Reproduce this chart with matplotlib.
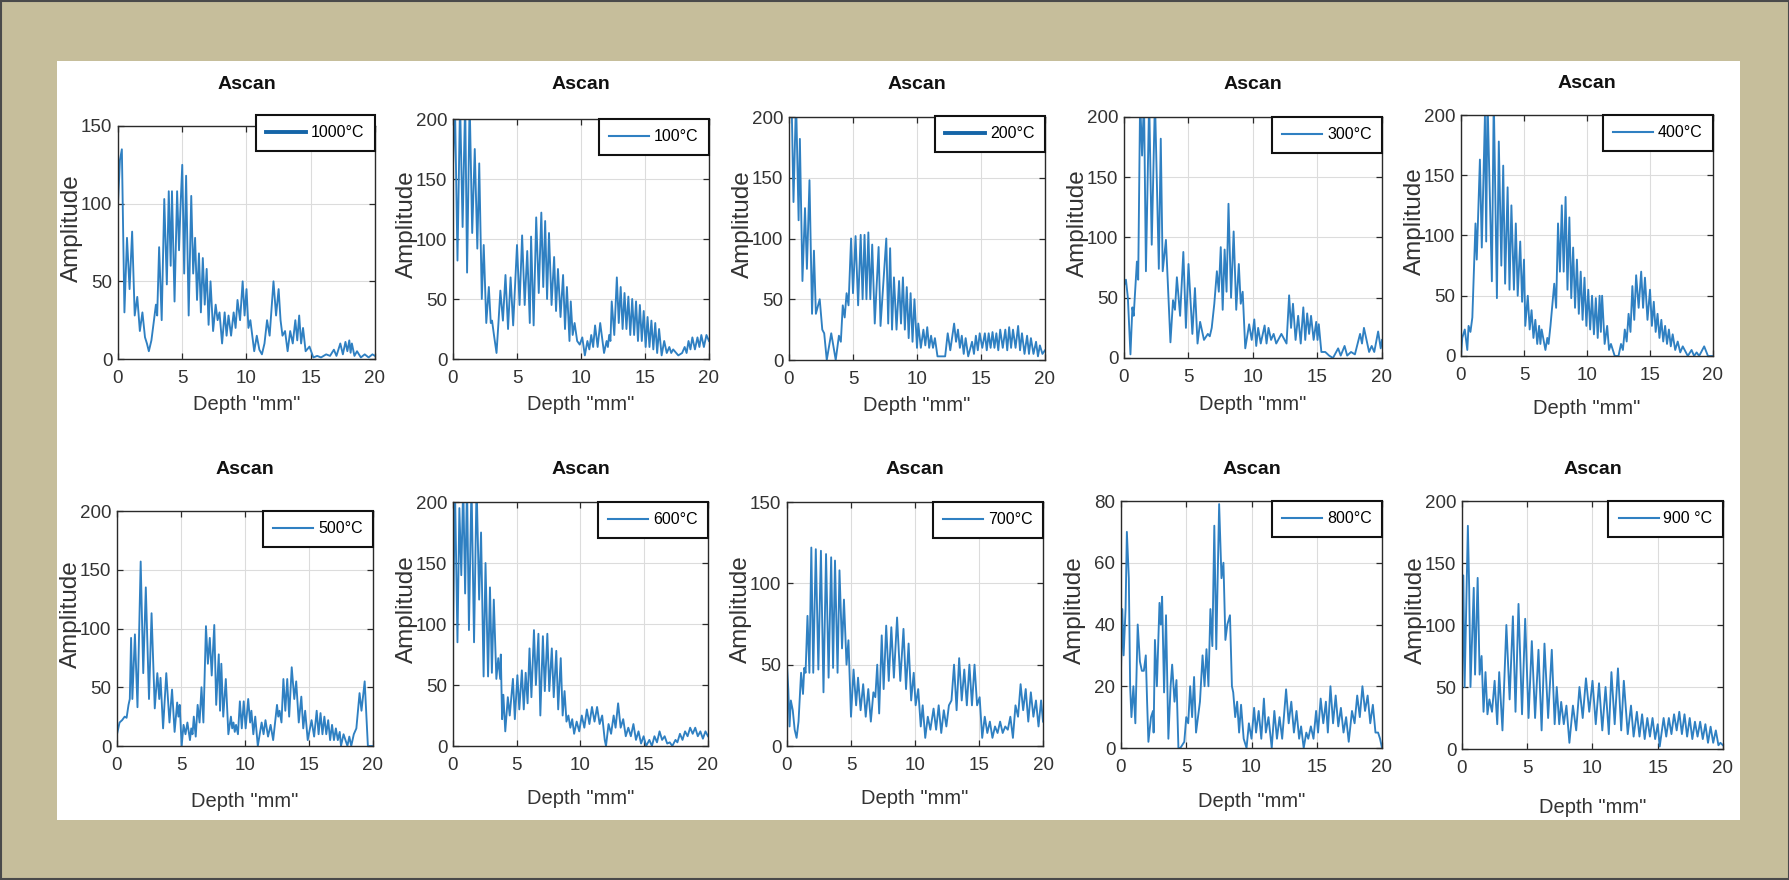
import matplotlib
matplotlib.use("Agg")
import matplotlib.pyplot as plt
from matplotlib.patches import Rectangle

plt.rcParams['font.family'] = ['Liberation Sans', 'DejaVu Sans']

W, H = 1790, 880

# ---------------- data (depth mm, amplitude) ----------------
labels = ['1000°C', '100°C', '200°C', '300°C', '400°C',
          '500°C', '600°C', '700°C', '800°C', '900 °C']
ymax_list = [150, 200, 200, 200, 200, 200, 200, 150, 80, 200]
ystep_list = [50, 50, 50, 50, 50, 50, 50, 50, 20, 50]
x_ticks = [0, 5, 10, 15, 20]

pts_1000 = [(0,100),(0.15,128),(0.3,135),(0.5,30),(0.7,78),(0.9,45),(1.1,82),(1.3,28),(1.5,40),(1.7,18),
            (1.9,30),(2.1,14),(2.25,10),(2.4,5),(2.6,12),(2.8,25),(2.95,35),(3.05,28),(3.2,72),(3.4,25),
            (3.6,103),(3.8,48),(3.95,108),(4.1,60),(4.2,108),(4.4,37),(4.6,108),(4.75,70),(4.85,95),(5.0,125),
            (5.15,55),(5.3,118),(5.5,28),(5.7,105),(5.85,55),(6.0,78),(6.15,38),(6.3,68),(6.45,30),(6.6,65),
            (6.75,35),(6.9,58),(7.05,22),(7.2,50),(7.4,18),(7.6,35),(7.75,25),(7.9,30),(8.1,10),(8.3,30),
            (8.45,15),(8.6,28),(8.8,15),(9.0,30),(9.15,20),(9.3,38),(9.5,25),(9.7,50),(9.85,28),(10.0,45),
            (10.15,20),(10.3,25),(10.6,5),(10.8,15),(11.0,6),(11.2,3),(11.4,10),(11.6,25),(11.8,15),(12.1,50),
            (12.3,28),(12.5,45),(12.65,25),(12.8,15),(13.0,18),(13.2,5),(13.4,18),(13.6,10),(13.8,25),(13.95,12),
            (14.1,28),(14.25,10),(14.4,20),(14.6,5),(14.9,8),(15.2,1),(15.5,2),(15.8,1),(16.2,3),(16.5,2),
            (16.8,6),(17.0,2),(17.3,10),(17.5,3),(17.7,11),(17.85,5),(18.0,12),(18.1,4),(18.2,10),(18.4,2),
            (18.6,5),(18.9,1),(19.2,3),(19.5,1),(19.8,3),(20,2)]

pts_100 = [(0,160),(0.15,215),(0.35,82),(0.55,215),(0.75,110),(0.95,215),(1.1,72),(1.3,215),(1.5,105),(1.7,175),
           (1.9,92),(2.05,163),(2.25,50),(2.4,95),(2.6,30),(2.8,60),(2.95,30),(3.05,32),(3.2,20),(3.4,5),
           (3.55,30),(3.7,57),(3.9,32),(4.1,70),(4.3,25),(4.5,68),(4.7,28),(5.0,95),(5.2,45),(5.4,103),
           (5.6,45),(5.8,90),(6.0,30),(6.1,102),(6.3,28),(6.5,118),(6.7,55),(6.9,122),(7.05,60),(7.2,115),
           (7.35,50),(7.5,105),(7.7,45),(7.9,85),(8.05,40),(8.2,75),(8.4,35),(8.6,70),(8.75,25),(8.9,60),
           (9.1,15),(9.2,48),(9.35,20),(9.5,30),(9.7,15),(9.9,12),(10.1,18),(10.3,3),(10.5,15),(10.65,8),
           (10.8,20),(10.95,10),(11.1,28),(11.3,10),(11.5,30),(11.8,5),(12.0,15),(12.1,10),(12.2,20),(12.3,15),
           (12.4,48),(12.6,20),(12.8,68),(12.95,30),(13.1,60),(13.25,25),(13.4,55),(13.55,25),(13.7,52),(13.85,20),
           (14.0,50),(14.15,20),(14.3,48),(14.45,15),(14.6,45),(14.75,15),(14.9,40),(15.05,10),(15.2,35),(15.35,10),
           (15.5,32),(15.65,8),(15.8,30),(15.95,5),(16.1,25),(16.3,3),(16.5,15),(16.7,5),(16.9,10),(17.05,5),
           (17.2,8),(17.6,3),(17.9,5),(18.1,10),(18.25,5),(18.4,15),(18.55,8),(18.7,18),(18.9,8),(19.1,18),
           (19.25,10),(19.4,20),(19.6,10),(19.8,20),(20,15)]

pts_200 = [(0,200),(0.2,215),(0.35,130),(0.55,215),(0.75,115),(0.85,182),(1.05,65),(1.25,125),(1.4,75),(1.6,148),
           (1.8,38),(1.95,90),(2.1,38),(2.4,50),(2.6,25),(2.75,22),(2.95,0),(3.3,22),(3.65,0),(3.9,20),
           (4.05,15),(4.2,45),(4.35,35),(4.5,55),(4.65,45),(4.85,100),(5.0,55),(5.2,102),(5.4,45),(5.6,103),
           (5.75,50),(5.9,103),(6.05,50),(6.2,105),(6.35,50),(6.5,95),(6.7,30),(7.0,93),(7.15,28),(7.6,100),
           (7.75,30),(7.9,92),(8.05,25),(8.2,68),(8.4,25),(8.6,65),(8.75,30),(8.9,68),(9.05,25),(9.2,60),
           (9.35,18),(9.5,55),(9.65,15),(9.8,50),(10.0,10),(10.1,30),(10.3,10),(10.5,25),(10.65,12),(10.8,27),
           (10.95,10),(11.1,20),(11.25,10),(11.4,18),(11.6,3),(12.2,3),(12.4,22),(12.6,8),(12.9,30),(13.05,15),
           (13.2,25),(13.35,10),(13.5,20),(13.65,5),(13.8,18),(14.0,3),(14.3,15),(14.45,5),(14.6,20),(14.75,8),
           (14.9,22),(15.1,10),(15.3,22),(15.45,8),(15.6,22),(15.75,10),(15.9,23),(16.05,10),(16.2,22),(16.35,8),
           (16.5,25),(16.7,10),(16.9,25),(17.05,8),(17.2,27),(17.35,10),(17.5,25),(17.7,10),(17.9,28),(18.05,8),
           (18.2,22),(18.4,5),(18.6,20),(18.75,5),(18.9,18),(19.1,5),(19.3,15),(19.45,3),(19.6,12),(19.8,5),(20,8)]

pts_300 = [(0,60),(0.15,65),(0.3,50),(0.5,3),(0.65,42),(0.75,35),(1.0,80),(1.1,65),(1.25,215),(1.4,168),
           (1.55,215),(1.7,72),(1.95,215),(2.15,94),(2.4,215),(2.7,74),(2.85,182),(3.0,72),(3.25,98),(3.6,13),
           (3.8,48),(3.95,40),(4.1,67),(4.35,35),(4.6,88),(4.8,25),(5.0,78),(5.3,20),(5.5,58),(5.7,12),
           (5.9,30),(6.2,15),(6.5,20),(6.65,18),(6.8,25),(7.0,45),(7.2,72),(7.35,55),(7.5,92),(7.65,40),
           (7.8,90),(7.95,55),(8.1,128),(8.3,50),(8.5,105),(8.7,40),(8.9,78),(9.05,45),(9.2,55),(9.4,8),
           (9.7,28),(9.9,15),(10.1,32),(10.25,10),(10.4,25),(10.6,12),(10.9,27),(11.05,12),(11.2,25),(11.4,15),
           (11.6,20),(11.8,12),(12.2,20),(12.6,12),(12.8,52),(12.95,25),(13.1,45),(13.3,15),(13.5,35),(13.7,12),
           (13.9,42),(14.05,15),(14.2,37),(14.35,20),(14.5,35),(14.7,15),(14.9,30),(15.0,15),(15.1,28),(15.3,5),
           (15.6,5),(15.9,2),(16.2,0),(16.6,8),(16.8,2),(17.1,10),(17.3,2),(17.6,5),(17.9,3),(18.3,20),
           (18.45,12),(18.6,25),(19.0,5),(19.2,10),(19.4,5),(19.7,22),(19.9,8),(20,15)]

pts_400 = [(0,0),(0.1,15),(0.3,22),(0.5,5),(0.6,25),(0.75,20),(0.9,32),(1.15,110),(1.25,80),(1.5,163),
           (1.65,90),(1.9,200),(2.0,95),(2.1,215),(2.45,62),(2.6,215),(2.85,48),(3.0,178),(3.2,75),(3.35,158),
           (3.5,60),(3.7,140),(3.85,55),(4.0,125),(4.2,55),(4.35,110),(4.5,50),(4.7,95),(4.85,45),(5.0,80),
           (5.1,25),(5.3,50),(5.45,22),(5.6,38),(5.75,15),(5.9,30),(6.05,10),(6.2,25),(6.3,10),(6.4,22),
           (6.7,5),(6.85,15),(6.95,10),(7.1,25),(7.4,60),(7.55,40),(7.7,110),(7.85,70),(8.0,125),(8.15,70),
           (8.3,132),(8.45,55),(8.6,115),(8.75,48),(8.9,90),(9.05,40),(9.2,80),(9.35,35),(9.5,70),(9.65,30),
           (9.8,65),(9.95,25),(10.1,55),(10.25,22),(10.4,50),(10.55,18),(10.7,48),(10.85,15),(11.0,50),(11.1,20),
           (11.2,50),(11.4,10),(11.6,25),(11.75,5),(11.9,10),(12.2,0),(12.5,0),(12.7,10),(12.85,5),(13.0,22),
           (13.15,12),(13.3,35),(13.45,20),(13.6,58),(13.75,30),(13.9,67),(14.1,40),(14.3,70),(14.45,40),(14.6,65),
           (14.8,30),(15.0,55),(15.15,25),(15.3,45),(15.45,20),(15.6,35),(15.75,15),(15.9,30),(16.05,12),(16.2,25),
           (16.35,10),(16.5,22),(16.65,8),(16.8,18),(17.0,5),(17.2,12),(17.4,3),(17.6,8),(18.0,0),(18.3,5),
           (18.5,0),(18.7,3),(18.9,0),(19.3,8),(19.6,0),(20,0)]

pts_500 = [(0,10),(0.2,20),(0.4,22),(0.6,25),(0.75,24),(0.9,35),(1.0,40),(1.1,92),(1.2,40),(1.4,95),
           (1.6,33),(1.85,157),(2.05,62),(2.25,135),(2.5,40),(2.7,113),(2.95,32),(3.15,62),(3.3,40),(3.4,58),
           (3.6,15),(3.85,62),(4.1,20),(4.3,48),(4.5,12),(4.7,37),(4.8,25),(4.9,35),(5.05,0),(5.2,18),
           (5.35,10),(5.5,20),(5.7,5),(5.8,15),(5.9,10),(6.0,25),(6.15,8),(6.3,35),(6.45,20),(6.6,50),
           (6.75,20),(6.95,102),(7.1,70),(7.25,92),(7.4,60),(7.6,103),(7.75,35),(7.95,78),(8.05,30),(8.15,70),
           (8.3,25),(8.5,57),(8.7,10),(8.9,25),(9.0,15),(9.1,20),(9.2,12),(9.3,18),(9.45,10),(9.6,38),
           (9.75,15),(9.9,38),(10.05,15),(10.25,40),(10.4,20),(10.5,30),(10.65,10),(10.8,25),(11.0,0),(11.3,20),
           (11.45,10),(11.6,22),(11.8,8),(12.0,18),(12.2,5),(12.5,35),(12.6,25),(12.7,30),(12.85,20),(13.0,57),
           (13.15,30),(13.3,57),(13.45,25),(13.65,67),(13.85,40),(14.0,55),(14.2,20),(14.4,42),(14.55,15),(14.7,30),
           (14.9,5),(15.2,22),(15.4,8),(15.6,30),(15.75,10),(15.9,28),(16.05,10),(16.2,25),(16.35,10),(16.5,22),
           (16.65,5),(16.8,18),(16.95,5),(17.1,15),(17.25,5),(17.4,12),(17.5,0),(17.7,10),(18.0,0),(18.15,8),
           (18.3,0),(18.5,10),(18.7,15),(18.95,45),(19.1,30),(19.35,55),(19.6,0),(20,0)]

pts_600 = [(0,90),(0.15,215),(0.35,85),(0.5,195),(0.65,140),(0.8,215),(0.95,125),(1.1,215),(1.25,95),(1.45,215),
           (1.65,85),(1.85,215),(2.05,120),(2.2,175),(2.4,57),(2.55,150),(2.75,57),(2.9,130),(3.05,60),(3.2,120),
           (3.4,55),(3.55,72),(3.7,55),(3.75,75),(3.85,22),(3.95,42),(4.1,12),(4.3,40),(4.45,25),(4.7,55),
           (4.85,22),(5.05,58),(5.2,30),(5.4,62),(5.55,30),(5.7,60),(5.85,35),(6.0,80),(6.15,40),(6.35,95),
           (6.5,50),(6.7,92),(6.85,25),(7.05,90),(7.2,45),(7.4,92),(7.55,45),(7.75,80),(7.9,40),(8.1,78),
           (8.25,30),(8.45,72),(8.6,25),(8.75,45),(8.9,20),(9.05,25),(9.2,15),(9.35,22),(9.5,10),(9.7,20),
           (9.9,12),(10.1,25),(10.3,15),(10.5,30),(10.7,18),(10.9,32),(11.1,20),(11.3,32),(11.5,18),(11.7,25),
           (11.9,5),(12.0,0),(12.2,18),(12.4,10),(12.6,25),(12.75,15),(12.95,35),(13.15,15),(13.35,22),(13.55,8),
           (13.75,15),(13.95,8),(14.15,18),(14.35,5),(14.55,12),(14.75,2),(14.95,8),(15.15,0),(15.4,5),(15.6,0),
           (15.8,8),(16.0,3),(16.2,12),(16.4,5),(16.6,8),(16.8,2),(17.0,3),(17.2,0),(17.45,5),(17.6,3),
           (17.8,10),(18.0,5),(18.2,12),(18.4,8),(18.6,15),(18.8,10),(19.0,15),(19.2,8),(19.4,12),(19.6,6),
           (19.8,12),(20,8)]

pts_700 = [(0,50),(0.1,35),(0.2,12),(0.3,28),(0.45,22),(0.6,10),(0.75,5),(0.9,15),(1.1,45),(1.25,32),
           (1.35,48),(1.45,45),(1.6,80),(1.75,45),(1.9,122),(2.05,45),(2.25,121),(2.45,47),(2.65,120),(2.85,33),
           (3.05,118),(3.25,42),(3.45,116),(3.6,48),(3.75,114),(3.95,45),(4.1,108),(4.3,60),(4.45,90),(4.65,50),
           (4.8,65),(5.0,18),(5.2,47),(5.4,25),(5.55,42),(5.75,22),(5.95,38),(6.15,18),(6.35,35),(6.55,15),
           (6.75,33),(6.9,30),(7.05,50),(7.2,20),(7.4,68),(7.55,35),(7.75,74),(7.95,40),(8.15,73),(8.35,42),
           (8.6,79),(8.85,40),(9.1,72),(9.3,35),(9.5,63),(9.7,28),(9.9,45),(10.05,25),(10.25,35),(10.45,12),
           (10.6,25),(10.8,5),(11.0,18),(11.2,10),(11.45,23),(11.65,10),(11.85,25),(12.05,8),(12.25,22),(12.45,12),
           (12.65,25),(12.85,28),(13.05,50),(13.25,22),(13.45,54),(13.65,28),(13.85,47),(14.05,25),(14.25,50),(14.45,25),
           (14.65,50),(14.85,25),(15.05,30),(15.25,5),(15.45,18),(15.65,8),(15.85,15),(16.05,5),(16.25,12),(16.45,8),
           (16.65,15),(16.85,8),(17.05,12),(17.25,10),(17.45,18),(17.65,5),(17.85,25),(18.05,18),(18.25,38),(18.45,22),
           (18.65,35),(18.85,15),(19.05,33),(19.25,18),(19.45,28),(19.65,12),(19.85,28),(20,15)]

pts_800 = [(0,25),(0.1,45),(0.2,30),(0.35,45),(0.45,70),(0.6,55),(0.7,20),(0.8,10),(0.95,20),(1.1,8),
           (1.28,40),(1.45,28),(1.6,25),(1.75,25),(1.9,30),(2.0,15),(2.1,2),(2.3,10),(2.45,12),(2.5,5),
           (2.6,35),(2.75,20),(2.95,47),(3.05,40),(3.15,49),(3.3,18),(3.45,43),(3.63,3),(3.8,20),(3.92,27),
           (4.1,15),(4.25,22),(4.4,0),(4.55,0),(4.7,1),(4.85,2),(5.0,10),(5.15,8),(5.3,20),(5.45,10),
           (5.6,23),(5.75,5),(5.9,10),(6.05,15),(6.25,30),(6.4,20),(6.55,32),(6.7,20),(6.85,45),(7.0,33),
           (7.15,72),(7.3,32),(7.52,79),(7.7,55),(7.85,60),(8.0,35),(8.15,40),(8.35,43),(8.5,20),(8.6,18),
           (8.75,10),(8.9,15),(9.05,5),(9.2,14),(9.4,3),(9.62,0),(9.8,8),(10.0,3),(10.2,13),(10.35,5),
           (10.55,12),(10.75,3),(10.95,16),(11.1,5),(11.3,10),(11.55,0),(11.75,12),(11.95,3),(12.15,10),(12.35,3),
           (12.65,19),(12.85,8),(13.05,15),(13.25,5),(13.45,12),(13.65,3),(13.8,7),(14.0,0),(14.2,5),(14.35,3),
           (14.55,7),(14.75,3),(14.95,12),(15.1,5),(15.3,16),(15.5,8),(15.7,15),(15.85,5),(16.05,20),(16.25,8),
           (16.45,17),(16.65,7),(16.85,13),(17.05,5),(17.25,10),(17.45,2),(17.7,12),(17.9,8),(18.1,17),(18.3,10),
           (18.5,20),(18.7,12),(18.9,17),(19.1,8),(19.3,14),(19.5,5),(19.7,5),(19.85,3),(20,0)]

pts_900 = [(0,50),(0.1,140),(0.2,50),(0.45,180),(0.55,130),(0.65,50),(0.9,130),(1.0,60),(1.2,138),(1.35,60),
           (1.5,75),(1.65,30),(1.8,62),(1.95,28),(2.1,40),(2.3,30),(2.5,55),(2.7,20),(2.85,62),(3.1,15),
           (3.4,100),(3.65,40),(3.9,107),(4.1,30),(4.33,117),(4.6,28),(4.84,105),(5.1,25),(5.35,87),(5.6,25),
           (5.86,80),(6.1,15),(6.32,85),(6.6,25),(6.88,80),(7.1,20),(7.26,50),(7.45,20),(7.6,38),(7.8,20),
           (8.0,35),(8.23,5),(8.5,35),(8.75,15),(9.0,50),(9.25,25),(9.5,57),(9.75,30),(10.0,55),(10.25,20),
           (10.5,53),(10.75,15),(11.0,50),(11.25,12),(11.45,62),(11.7,20),(11.95,65),(12.2,15),(12.4,55),(12.7,12),
           (12.95,35),(13.15,10),(13.4,30),(13.6,10),(13.8,28),(14.0,8),(14.2,25),(14.4,10),(14.6,25),(14.8,8),
           (15.0,20),(15.15,2),(15.45,25),(15.65,10),(15.85,25),(16.05,12),(16.25,28),(16.45,15),(16.65,30),(16.85,12),
           (17.05,28),(17.25,10),(17.45,25),(17.65,8),(17.85,22),(18.05,10),(18.25,22),(18.45,8),(18.65,20),(18.85,5),
           (19.05,18),(19.25,5),(19.45,15),(19.65,3),(19.8,5),(20,3)]

series = [pts_1000, pts_100, pts_200, pts_300, pts_400,
          pts_500, pts_600, pts_700, pts_800, pts_900]

# ---------------- layout (pixel boxes: left, top, right, bottom) ----------------
boxes = [(118, 126, 375, 359), (453, 119, 709, 359), (789, 117, 1045, 360),
         (1124, 117, 1382, 358), (1461, 115, 1713, 356),
         (117, 511, 373, 746), (453, 502, 708, 746), (787, 502, 1043, 746),
         (1121, 501, 1382, 748), (1462, 501, 1723, 749)]
title_y = [93, 93, 93, 93, 92, 478, 478, 478, 478, 478]
xlabel_y = [405, 405, 405, 405, 408, 801, 798, 798, 801, 807]
legend_top = [115, 119, 116, 117, 115, 511, 502, 502, 501, 501]
legend_lw = [2.8, 1.5, 2.8, 1.5, 1.5, 1.5, 1.5, 1.5, 1.5, 1.5]

KHAKI = '#c6be9b'
LINE = '#2f80c2'

fig = plt.figure(figsize=(W / 100, H / 100), dpi=100)
fig.patch.set_facecolor(KHAKI)

# white panel and outer border
fig.patches.append(Rectangle((57 / W, 1 - 820 / H), (1740 - 57) / W, (820 - 61) / H,
                             transform=fig.transFigure, facecolor='white', edgecolor='none', zorder=-5))
fig.patches.append(Rectangle((1 / W, 1 / H), (W - 2) / W, (H - 2) / H,
                             transform=fig.transFigure, facecolor='none', edgecolor='#4a4a4a',
                             linewidth=1.5, zorder=-4))

for i, (box, pts) in enumerate(zip(boxes, series)):
    l, t, r, b = box
    w, h = r - l, b - t
    ax = fig.add_axes([l / W, 1 - b / H, w / W, h / H])
    xs = [p[0] for p in pts]
    ys = [p[1] for p in pts]
    ax.plot(xs, ys, color=LINE, linewidth=1.35, label=labels[i])
    ax.set_xlim(0, 20)
    ax.set_ylim(0, ymax_list[i])
    ax.set_xticks(x_ticks)
    ax.set_yticks(list(range(0, ymax_list[i] + 1, ystep_list[i])))
    ax.grid(True, color='#dcdcdc', linewidth=0.8)
    ax.set_axisbelow(True)
    for s in ax.spines.values():
        s.set_color('#2a2a2a')
        s.set_linewidth(1.0)
    ax.tick_params(direction='in', top=True, right=True, length=4, width=0.9,
                   colors='#2a2a2a', labelsize=13.5, labelcolor='#333333')
    ax.tick_params(axis='x', pad=8)
    ax.tick_params(axis='y', pad=4)
    ax.set_title('Ascan', fontsize=14, fontweight='bold', color='#111111',
                 y=1 + (t - title_y[i]) / h, va='center')
    ax.set_xlabel('Depth "mm"', fontsize=14.5, color='#333333', va='center')
    ax.xaxis.set_label_coords(0.5, -(xlabel_y[i] - b) / h)
    ax.set_ylabel('Amplitude', fontsize=17.5, color='#333333', va='center')
    ax.yaxis.set_label_coords(-46 / w, 0.56)
    leg = ax.legend(loc='upper right', bbox_to_anchor=(1.0, 1 + (t - legend_top[i]) / h),
                    borderaxespad=0.0, fontsize=11.5, handlelength=2.5, handletextpad=0.3,
                    borderpad=0.65, frameon=True, fancybox=False, framealpha=1.0,
                    edgecolor='#111111')
    leg.set_zorder(5)
    leg.get_frame().set_linewidth(1.5)
    for ln in leg.get_lines():
        ln.set_linewidth(legend_lw[i])
        ln.set_color('#1565a8' if legend_lw[i] > 2 else LINE)

fig.savefig('out.png', dpi=100, facecolor=fig.get_facecolor())
